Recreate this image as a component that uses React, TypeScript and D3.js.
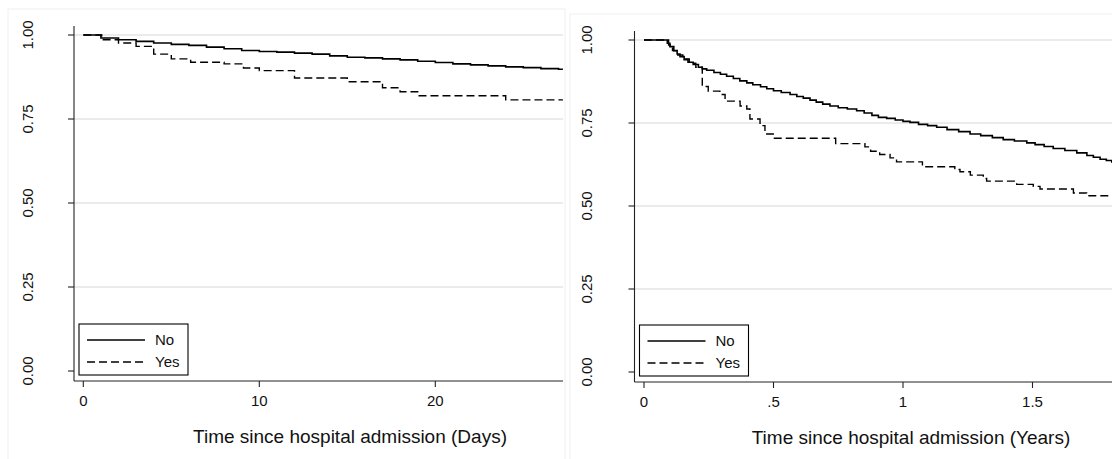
import React from "react";
import * as d3 from "d3";

const W = 1112;
const H = 459;

// Axis ticks and labels
const yTicks = [0, 0.25, 0.5, 0.75, 1];
const yTickLabels = ["0.00", "0.25", "0.50", "0.75", "1.00"];
const gridTicks = [0.25, 0.5, 0.75, 1];
const dayTicks = [0, 10, 20];
const dayTickLabels = ["0", "10", "20"];
const yearTicks = [0, 0.5, 1, 1.5];
const yearTickLabels = ["0", ".5", "1", "1.5"];
const groups = ["No", "Yes"];

// Short-term survival (days since admission)
const daysNoT = [0, 1, 2, 3, 4, 5, 6, 7, 8, 9, 10, 11, 12, 13, 14, 15, 16, 17, 18, 19, 20, 21, 22, 23, 24, 25, 26, 27, 27.25];
const daysNoS = [1, 0.991, 0.986, 0.981, 0.976, 0.972, 0.969, 0.964, 0.959, 0.954, 0.951, 0.949, 0.946, 0.943, 0.938, 0.934, 0.932, 0.929, 0.926, 0.922, 0.918, 0.914, 0.911, 0.908, 0.905, 0.903, 0.9, 0.898, 0.898];
const daysYesT = [0, 1.05, 2, 3, 4, 5, 6.1, 8, 9.1, 10, 12, 15, 17, 18, 19, 24, 27.25];
const daysYesS = [1, 0.986, 0.976, 0.966, 0.943, 0.929, 0.919, 0.914, 0.902, 0.894, 0.872, 0.861, 0.843, 0.831, 0.819, 0.807, 0.807];

// Longer-term survival (years since admission)
const yearsNoT = [0, 0.081, 0.09, 0.1, 0.115, 0.128, 0.139, 0.155, 0.17, 0.19, 0.21, 0.225, 0.242, 0.27, 0.295, 0.319, 0.345, 0.37, 0.397, 0.42, 0.45, 0.474, 0.5, 0.53, 0.564, 0.59, 0.615, 0.641, 0.665, 0.69, 0.718, 0.75, 0.785, 0.821, 0.85, 0.88, 0.905, 0.937, 0.97, 1.0, 1.027, 1.06, 1.095, 1.13, 1.17, 1.215, 1.259, 1.3, 1.345, 1.387, 1.43, 1.478, 1.51, 1.545, 1.58, 1.625, 1.671, 1.71, 1.735, 1.761, 1.785, 1.806, 1.84, 1.86];
const yearsNoS = [1, 1, 0.99, 0.98, 0.968, 0.958, 0.95, 0.941, 0.933, 0.926, 0.918, 0.913, 0.909, 0.902, 0.897, 0.891, 0.884, 0.877, 0.871, 0.865, 0.859, 0.853, 0.847, 0.842, 0.836, 0.83, 0.825, 0.819, 0.813, 0.807, 0.801, 0.796, 0.792, 0.787, 0.78, 0.773, 0.767, 0.764, 0.759, 0.755, 0.752, 0.746, 0.742, 0.737, 0.73, 0.724, 0.717, 0.712, 0.706, 0.7, 0.696, 0.69, 0.685, 0.679, 0.673, 0.667, 0.66, 0.652, 0.647, 0.641, 0.637, 0.633, 0.627, 0.627];
const yearsYesT = [0, 0.081, 0.095, 0.11, 0.13, 0.15, 0.175, 0.2, 0.225, 0.248, 0.293, 0.313, 0.371, 0.397, 0.409, 0.448, 0.467, 0.499, 0.74, 0.853, 0.875, 0.91, 0.95, 0.975, 1.075, 1.2, 1.22, 1.26, 1.31, 1.323, 1.439, 1.503, 1.529, 1.658, 1.709, 1.86];
const yearsYesS = [1, 1, 0.985, 0.968, 0.955, 0.943, 0.93, 0.918, 0.86, 0.846, 0.836, 0.816, 0.801, 0.792, 0.762, 0.742, 0.717, 0.704, 0.688, 0.678, 0.665, 0.655, 0.645, 0.633, 0.618, 0.61, 0.603, 0.593, 0.583, 0.575, 0.565, 0.559, 0.551, 0.539, 0.531, 0.531];

const FONT = "'Liberation Sans', Arial, Helvetica, sans-serif";
const DASH = "8,4";

type Pt = { t: number; s: number };
const zip = (t: number[], s: number[]): Pt[] => t.map((v, i) => ({ t: v, s: s[i] }));

type PanelSpec = {
  frame: { x: number; y: number; w: number; h: number };
  axisX: number;
  axisTop: number;
  axisY: number;
  plotRight: number;
  x: d3.ScaleLinear<number, number>;
  y: d3.ScaleLinear<number, number>;
  xTicks: number[];
  xTickLabels: string[];
  yLabelX: number;
  xLabelY: number;
  title: string;
  titleX: number;
  titleY: number;
  legendX: number;
  legendY: number;
  series: Pt[][];
  clipId: string;
};

function Panel({ p }: { p: PanelSpec }) {
  const line = d3
    .line<Pt>()
    .x((d) => p.x(d.t))
    .y((d) => p.y(d.s))
    .curve(d3.curveStepAfter);

  return (
    <g>
      <rect
        x={p.frame.x}
        y={p.frame.y}
        width={p.frame.w}
        height={p.frame.h}
        fill="#ffffff"
        stroke="#efefef"
        strokeWidth={1}
      />
      <defs>
        <clipPath id={p.clipId}>
          <rect x={p.axisX} y={p.axisTop - 5} width={p.plotRight - p.axisX} height={p.axisY - p.axisTop + 5} />
        </clipPath>
      </defs>
      {/* horizontal grid */}
      {gridTicks.map((v) => (
        <line
          key={"g" + v}
          x1={p.axisX}
          x2={p.plotRight}
          y1={p.y(v)}
          y2={p.y(v)}
          stroke="#e4e4e4"
          strokeWidth={1.3}
        />
      ))}
      {/* survival curves */}
      <g clipPath={`url(#${p.clipId})`}>
        {p.series.map((s, i) => (
          <path
            key={"s" + i}
            d={line(s) || ""}
            fill="none"
            stroke="#000"
            strokeWidth={i === 0 ? 1.6 : 1.4}
            strokeDasharray={i === 0 ? undefined : DASH}
          />
        ))}
      </g>
      {/* y axis */}
      <line x1={p.axisX} x2={p.axisX} y1={p.axisTop} y2={p.axisY} stroke="#222" strokeWidth={1.1} />
      {yTicks.map((v, i) => (
        <g key={"y" + v}>
          <line x1={p.axisX - 6} x2={p.axisX} y1={p.y(v)} y2={p.y(v)} stroke="#222" strokeWidth={1.1} />
          <text
            transform={`translate(${p.yLabelX},${p.y(v)}) rotate(-90)`}
            textAnchor="middle"
            fontFamily={FONT}
            fontSize={15}
            fill="#111"
          >
            {yTickLabels[i]}
          </text>
        </g>
      ))}
      {/* x axis */}
      <line x1={p.axisX} x2={p.plotRight} y1={p.axisY} y2={p.axisY} stroke="#222" strokeWidth={1.1} />
      {p.xTicks.map((v, i) => (
        <g key={"x" + v}>
          <line x1={p.x(v)} x2={p.x(v)} y1={p.axisY} y2={p.axisY + 6} stroke="#222" strokeWidth={1.1} />
          <text x={p.x(v)} y={p.xLabelY} textAnchor="middle" fontFamily={FONT} fontSize={15} fill="#111">
            {p.xTickLabels[i]}
          </text>
        </g>
      ))}
      <text x={p.titleX} y={p.titleY} textAnchor="middle" fontFamily={FONT} fontSize={19} fill="#111">
        {p.title}
      </text>
      {/* legend */}
      <g transform={`translate(${p.legendX},${p.legendY})`}>
        <rect x={0} y={0} width={109} height={51} fill="#fff" stroke="#000" strokeWidth={1.1} />
        {groups.map((g, i) => (
          <g key={g}>
            <line
              x1={8}
              x2={66}
              y1={16 + i * 22}
              y2={16 + i * 22}
              stroke="#000"
              strokeWidth={1.4}
              strokeDasharray={i === 0 ? undefined : DASH}
            />
            <text x={76} y={21 + i * 22} fontFamily={FONT} fontSize={15} fill="#111">
              {g}
            </text>
          </g>
        ))}
      </g>
    </g>
  );
}

export default function App() {
  const left: PanelSpec = {
    frame: { x: 8, y: 9, w: 557, h: 460 },
    axisX: 74,
    axisTop: 26,
    axisY: 381,
    plotRight: 563,
    x: d3.scaleLinear().domain([0, 10]).range([83.3, 259.3]),
    y: d3.scaleLinear().domain([0, 1]).range([371, 35]),
    xTicks: dayTicks,
    xTickLabels: dayTickLabels,
    yLabelX: 33,
    xLabelY: 406,
    title: "Time since hospital admission (Days)",
    titleX: 350,
    titleY: 443,
    legendX: 79,
    legendY: 324,
    series: [zip(daysNoT, daysNoS), zip(daysYesT, daysYesS)],
    clipId: "clipDays",
  };
  const right: PanelSpec = {
    frame: { x: 570, y: 14, w: 600, h: 460 },
    axisX: 634.5,
    axisTop: 31,
    axisY: 382,
    plotRight: 1124,
    x: d3.scaleLinear().domain([0, 0.5]).range([644, 773.5]),
    y: d3.scaleLinear().domain([0, 1]).range([372, 40]),
    xTicks: yearTicks,
    xTickLabels: yearTickLabels,
    yLabelX: 592,
    xLabelY: 407,
    title: "Time since hospital admission (Years)",
    titleX: 911,
    titleY: 444,
    legendX: 639.5,
    legendY: 325,
    series: [zip(yearsNoT, yearsNoS), zip(yearsYesT, yearsYesS)],
    clipId: "clipYears",
  };

  return (
    <svg
      width={W}
      height={H}
      viewBox={`0 0 ${W} ${H}`}
      style={{ position: "absolute", left: 0, top: 0, background: "#fff" }}
    >
      <rect x={0} y={0} width={W} height={H} fill="#fff" />
      <Panel p={left} />
      <Panel p={right} />
    </svg>
  );
}
